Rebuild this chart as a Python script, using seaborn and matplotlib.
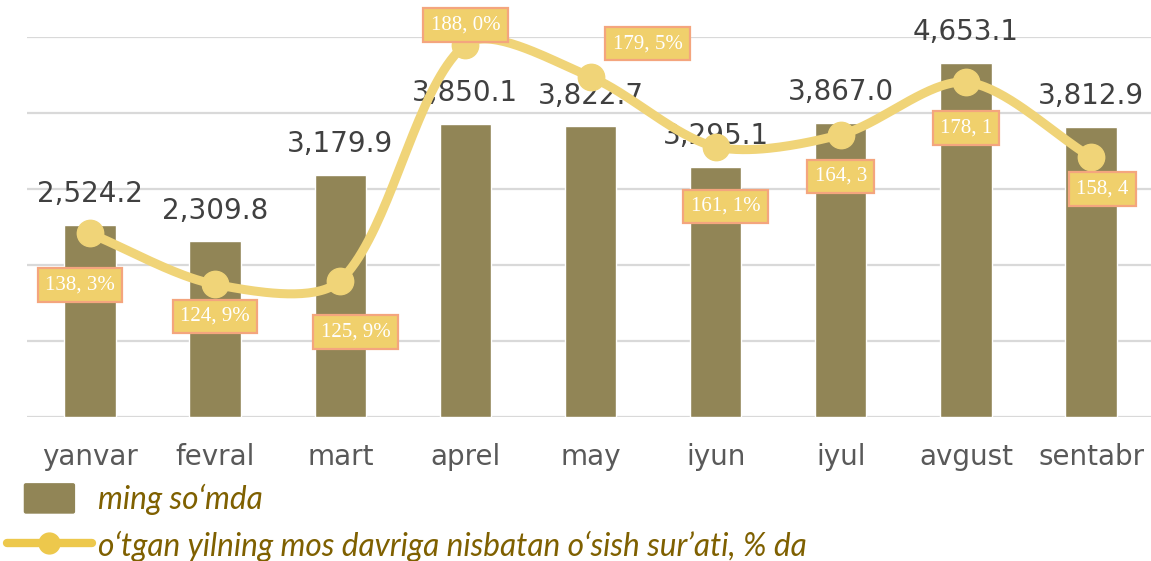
import numpy as np
import pandas as pd
import seaborn as sns
import matplotlib
matplotlib.use("Agg")
import matplotlib.pyplot as plt
from matplotlib.lines import Line2D
from matplotlib.patches import Patch, FancyBboxPatch
from matplotlib.legend_handler import HandlerPatch

# chart data
months = ["yanvar", "fevral", "mart", "aprel", "may", "iyun", "iyul", "avgust", "sentabr"]
amounts = [2524.2, 2309.8, 3179.9, 3850.1, 3822.7, 3295.1, 3867.0, 4653.1, 3812.9]
growth = [138.3, 124.9, 125.9, 188.0, 179.5, 161.1, 164.3, 178.1, 158.4]
growth_labels = ["138, 3%", "124, 9%", "125, 9%", "188, 0%", "179, 5%",
                 "161, 1%", "164, 3", "178, 1", "158, 4"]
legend_labels = ["ming so‘mda",
                 "o‘tgan yilning mos davriga nisbatan o‘sish sur’ati, % da"]

# label placement (offset points from each line point)
label_offsets = [(-7, -37), (0, -23), (11, -37), (0, 14), (41, 24),
                 (7, -43), (0, -30), (0, -33), (8, -23)]

BAR = "#918556"
LINE = "#F0D478"
LEG_LINE = "#EDC84C"
BOX_FC = "#F0D06C"
BOX_EC = "#F4A57E"
GRID = "#D9D9D9"

sns.set_theme(style="white")
plt.rcParams["font.family"] = ["DejaVu Sans"]


def smooth_path(pts, tension=0.3, n=40):
    # bezier smoothing in screen space, tangent length scaled by segment length
    pts = np.asarray(pts, float)
    m = len(pts)
    out = []
    for k in range(m - 1):
        p1, p2 = pts[k], pts[k + 1]
        p0 = pts[k - 1] if k > 0 else p1
        p3 = pts[k + 2] if k + 2 < m else p2
        d01 = np.hypot(*(p1 - p0))
        d12 = np.hypot(*(p2 - p1))
        d23 = np.hypot(*(p3 - p2))
        c1 = p1 + tension * d12 / (d01 + d12) * (p2 - p0)
        c2 = p2 - tension * d12 / (d12 + d23) * (p3 - p1)
        t = np.linspace(0, 1, n)[:, None]
        seg = ((1 - t) ** 3 * p1 + 3 * (1 - t) ** 2 * t * c1
               + 3 * (1 - t) * t ** 2 * c2 + t ** 3 * p2)
        out.append(seg)
    return np.vstack(out)


def square_patch(legend, orig_handle, xdescent, ydescent, width, height, fontsize):
    w, h = 38, 23
    return FancyBboxPatch((-xdescent + (width - w) / 2, -ydescent + (height - h) / 2),
                          w, h, boxstyle="round,pad=0,rounding_size=2")


fig = plt.figure(figsize=(11.51, 5.61), dpi=100)
ax = fig.add_axes([27.4 / 1151, 144 / 561, 1126.3 / 1151, 380 / 561])

df = pd.DataFrame({"month": months, "amount": amounts})
sns.barplot(data=df, x="month", y="amount", color=BAR, saturation=1,
            width=0.41, ax=ax, zorder=2)

ax.set_xlim(-0.5, 8.5)
ax.set_ylim(0, 5000)
ax.set_yticks(range(0, 5001, 1000))
ax.set_axisbelow(True)
ax.yaxis.grid(True, color=GRID, lw=1.6)
ax.xaxis.grid(False)
ax.set_xlabel("")
ax.set_ylabel("")
for s in ax.spines.values():
    s.set_visible(False)

for i, v in enumerate(amounts):
    ax.annotate(f"{v:,.1f}", (i, v), xytext=(0, 16.5), textcoords="offset points",
                ha="center", va="baseline", fontsize=20, color="#404040",
                annotation_clip=False)

# growth rate on the secondary axis
ax2 = ax.twinx()
ax2.set_ylim(90, 190)
ax2.grid(False)
for s in ax2.spines.values():
    s.set_visible(False)
ax.tick_params(axis="y", left=False, right=False, labelleft=False)
ax.tick_params(axis="x", length=0, pad=19, labelsize=20, labelcolor="#595959")
ax2.tick_params(axis="y", left=False, right=False, labelleft=False, labelright=False)

xpos = np.arange(len(growth))
disp = ax2.transData.transform(np.column_stack([xpos, growth]))
curve = ax2.transData.inverted().transform(smooth_path(disp))
ax2.plot(curve[:, 0], curve[:, 1], color=LINE, lw=6.5, solid_capstyle="round",
         clip_on=False, zorder=3)
ax2.plot(xpos, growth, "o", ms=19, color=LINE, clip_on=False, zorder=4)

for i, (g, lbl) in enumerate(zip(growth, growth_labels)):
    ax2.annotate(lbl, (i, g), xytext=label_offsets[i], textcoords="offset points",
                 ha="center", va="center", fontsize=15, color="white",
                 family="Liberation Serif", annotation_clip=False, zorder=5,
                 bbox=dict(boxstyle="square,pad=0.35", fc=BOX_FC, ec=BOX_EC, lw=1.6))

handles = [Patch(facecolor=BAR),
           Line2D([], [], color=LEG_LINE, lw=6, marker="o", ms=15)]
fig.legend(handles=handles, labels=legend_labels, loc="upper left",
           bbox_to_anchor=(7 / 1151, 1 - 484 / 561), frameon=False,
           prop=dict(family="Lato", style="italic", size=22.8), labelcolor="#7F6000",
           handlelength=2.68, handleheight=1.0, handletextpad=0.2,
           labelspacing=0.48, borderpad=0, borderaxespad=0,
           handler_map={Patch: HandlerPatch(patch_func=square_patch)})

fig.savefig("out.png", dpi=100)
